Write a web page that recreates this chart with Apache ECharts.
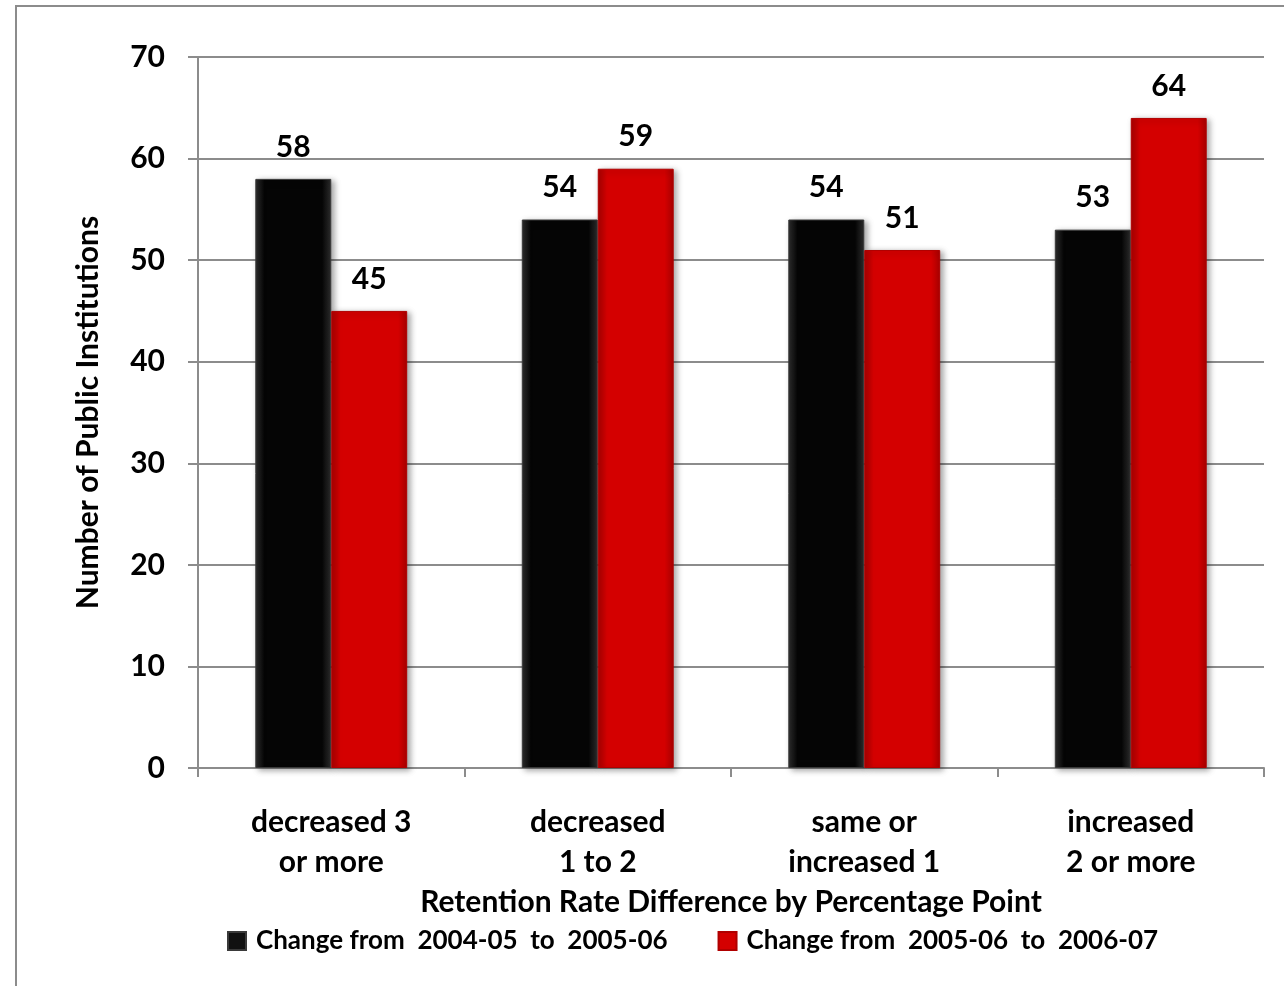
<!DOCTYPE html>
<html>
<head>
<meta charset="utf-8">
<style>
  html, body { margin: 0; padding: 0; background: #ffffff; }
  #chart { width: 1284px; height: 986px; }
</style>
<script src="https://cdn.jsdelivr.net/npm/echarts@6/dist/echarts.min.js"></script>
</head>
<body>
<div id="chart"></div>
<script>
// Retention rate change buckets and institution counts
const categories = ['decreased 3\nor more', 'decreased\n1 to 2', 'same or\nincreased 1', 'increased\n2 or more'];
const seriesNames = ['Change from  2004-05  to  2005-06', 'Change from  2005-06  to  2006-07'];
const change0405to0506 = [58, 54, 54, 53];
const change0506to0607 = [45, 59, 51, 64];
const yTicks = { min: 0, max: 70, interval: 10 };

const FONT = 'Lato';

function barFill(edge, mid) {
  return {
    type: 'linear', x: 0, y: 0, x2: 1, y2: 0,
    colorStops: [
      { offset: 0, color: edge },
      { offset: 0.12, color: mid },
      { offset: 0.88, color: mid },
      { offset: 1, color: edge }
    ]
  };
}

const chart = echarts.init(document.getElementById('chart'), null, { renderer: 'canvas' });

const labelStyle = {
  show: true,
  position: 'top',
  distance: 17,
  fontFamily: FONT,
  fontWeight: 'bold',
  fontSize: 30,
  color: '#000'
};

chart.setOption({
  animation: false,
  backgroundColor: '#ffffff',
  textStyle: { fontFamily: FONT },
  graphic: [{
    type: 'rect',
    shape: { x: 16, y: 6, width: 1300, height: 1000 },
    style: { fill: 'none', stroke: '#8c8c8c', lineWidth: 2 },
    z: 0, silent: true
  }],
  grid: { left: 198, right: 20, top: 57, bottom: 218 },
  legend: {
    bottom: 27,
    left: 222,
    itemWidth: 18,
    itemHeight: 18,
    itemGap: 50,
    textStyle: { fontFamily: FONT, fontWeight: 'bold', fontSize: 26, color: '#000', padding: [0, 0, 0, 5] },
    data: [
      { name: seriesNames[0], icon: 'rect', itemStyle: { color: '#111' } },
      { name: seriesNames[1], icon: 'rect', itemStyle: { color: '#d40000' } }
    ]
  },
  xAxis: {
    type: 'category',
    data: categories,
    name: 'Retention Rate Difference by Percentage Point',
    nameLocation: 'middle',
    nameGap: 117,
    nameTextStyle: { fontFamily: FONT, fontWeight: 'bold', fontSize: 30, color: '#000' },
    axisLine: { show: true, lineStyle: { color: '#8c8c8c', width: 2 } },
    axisTick: { show: true, length: 9, alignWithLabel: false, lineStyle: { color: '#8c8c8c', width: 2 } },
    axisLabel: {
      margin: 34,
      interval: 0,
      fontFamily: FONT, fontWeight: 'bold', fontSize: 30, color: '#000',
      lineHeight: 40
    }
  },
  yAxis: {
    type: 'value',
    min: yTicks.min,
    max: yTicks.max,
    interval: yTicks.interval,
    name: 'Number of Public Institutions',
    nameLocation: 'middle',
    nameGap: 95,
    nameRotate: 90,
    nameTextStyle: { fontFamily: FONT, fontWeight: 'bold', fontSize: 30, color: '#000' },
    axisLine: { show: true, lineStyle: { color: '#8c8c8c', width: 2 } },
    axisTick: { show: true, length: 10, lineStyle: { color: '#8c8c8c', width: 2 } },
    axisLabel: { margin: 33, fontFamily: FONT, fontWeight: 'bold', fontSize: 30, color: '#000' },
    splitLine: { show: true, lineStyle: { color: '#8c8c8c', width: 2 } }
  },
  series: [
    {
      name: seriesNames[0],
      type: 'bar',
      data: change0405to0506,
      barGap: '0%',
      barCategoryGap: '43%',
      itemStyle: {
        color: barFill('#2e2e2e', '#050505'),
        borderColor: '#3a3a3a', borderWidth: 1,
        shadowColor: 'rgba(0,0,0,0.35)', shadowBlur: 6, shadowOffsetX: 3, shadowOffsetY: 2
      },
      label: labelStyle,
      z: 3
    },
    {
      name: seriesNames[1],
      type: 'bar',
      data: change0506to0607,
      itemStyle: {
        color: barFill('#a80000', '#d40000'),
        borderColor: '#b00000', borderWidth: 1,
        shadowColor: 'rgba(0,0,0,0.35)', shadowBlur: 6, shadowOffsetX: 3, shadowOffsetY: 2
      },
      label: labelStyle,
      z: 3
    }
  ]
});
</script>
</body>
</html>
